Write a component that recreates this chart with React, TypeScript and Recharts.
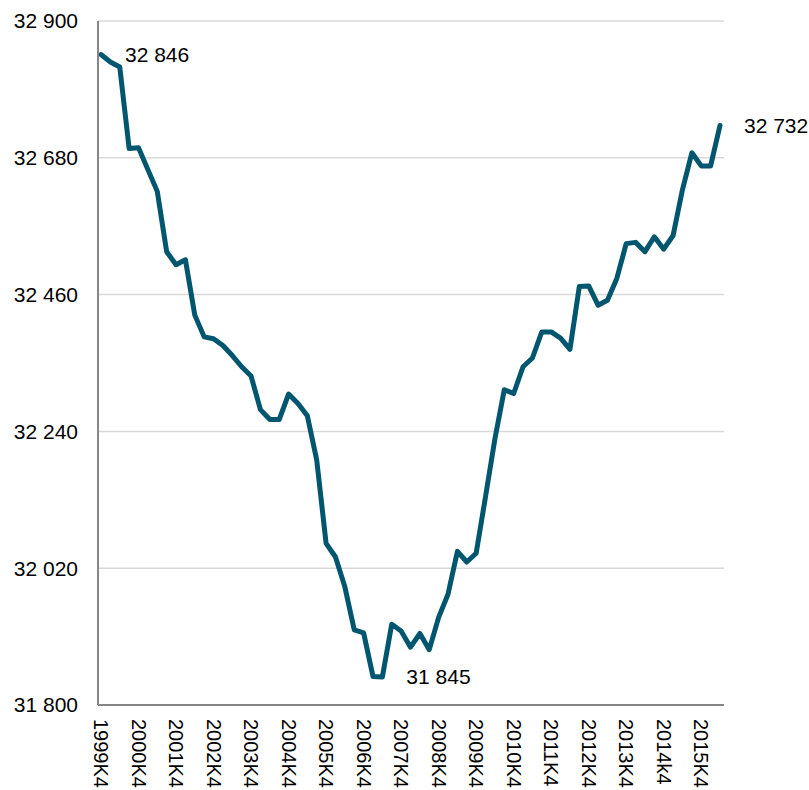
import React from "react";
import { LineChart, Line, XAxis, YAxis, CartesianGrid, LabelList } from "recharts";

const quarters: string[] = [
  "1999K4",
  "2000K1", "2000K2", "2000K3", "2000K4",
  "2001K1", "2001K2", "2001K3", "2001K4",
  "2002K1", "2002K2", "2002K3", "2002K4",
  "2003K1", "2003K2", "2003K3", "2003K4",
  "2004K1", "2004K2", "2004K3", "2004K4",
  "2005K1", "2005K2", "2005K3", "2005K4",
  "2006K1", "2006K2", "2006K3", "2006K4",
  "2007K1", "2007K2", "2007K3", "2007K4",
  "2008K1", "2008K2", "2008K3", "2008K4",
  "2009K1", "2009K2", "2009K3", "2009K4",
  "2010K1", "2010K2", "2010K3", "2010K4",
  "2011K1", "2011K2", "2011K3", "2011K4",
  "2012K1", "2012K2", "2012K3", "2012K4",
  "2013K1", "2013K2", "2013K3", "2013K4",
  "2014K1", "2014K2", "2014K3", "2014k4",
  "2015K1", "2015K2", "2015K3", "2015K4",
  "2016K1", "2016K2",
];

const values: number[] = [
  32846,
  32834, 32826, 32695, 32696,
  32661, 32626, 32529, 32508,
  32516, 32427, 32392, 32389,
  32378, 32362, 32344, 32329,
  32275, 32259, 32259, 32300,
  32285, 32265, 32194, 32060,
  32038, 31990, 31921, 31916,
  31846, 31845, 31930, 31919,
  31893, 31915, 31889, 31941,
  31978, 32047, 32030, 32044,
  32135, 32228, 32307, 32301,
  32344, 32358, 32400, 32400,
  32390, 32372, 32473, 32474,
  32443, 32451, 32486, 32542,
  32544, 32529, 32553, 32533,
  32555, 32629, 32688, 32667,
  32667, 32732,
];

const yTicks: number[] = [31800, 32020, 32240, 32460, 32680, 32900];
const labelledIndices: number[] = [0, 30, 66];

const data = quarters.map((q, i) => ({ q, value: values[i] }));

const FONT = "'Liberation Sans', Arial, sans-serif";
const FS = 21;
const fmt = (v: number) => String(v).replace(/\B(?=(\d{3})+(?!\d))/g, " ");

const XTick = (props: any) => {
  const { x, y, payload } = props;
  return (
    <text
      x={x}
      y={y}
      dy="0.35em"
      transform={`rotate(90, ${x}, ${y})`}
      textAnchor="start"
      fontSize={20}
      fontFamily={FONT}
      fill="#000"
    >
      {payload.value}
    </text>
  );
};

const renderLabel = (props: any) => {
  const { x, y, value, index } = props;
  if (!labelledIndices.includes(index)) return null;
  return (
    <text
      x={Number(x) + 24}
      y={y}
      dy="0.35em"
      textAnchor="start"
      fontSize={FS}
      fontFamily={FONT}
      fill="#000"
    >
      {fmt(value)}
    </text>
  );
};

export default function App() {
  return (
    <div style={{ position: "absolute", left: 0, top: 0, background: "#fff" }}>
      <LineChart
        width={809}
        height={790}
        data={data}
        margin={{ top: 21, right: 85, bottom: 0, left: 0 }}
      >
        <CartesianGrid vertical={false} stroke="#d9d9d9" strokeWidth={1.5} />
        <XAxis
          dataKey="q"
          interval={3}
          height={85}
          padding={{ left: 3, right: 4 }}
          axisLine={{ stroke: "#868686", strokeWidth: 2 }}
          tickLine={false}
          tickSize={6}
          tickMargin={8}
          tick={<XTick />}
        />
        <YAxis
          width={98}
          domain={[31800, 32900]}
          ticks={yTicks}
          type="number"
          allowDataOverflow
          axisLine={{ stroke: "#868686", strokeWidth: 2 }}
          tickLine={false}
          tickSize={6}
          tickMargin={14}
          tickFormatter={fmt}
          tick={{ fontSize: FS, fontFamily: FONT, fill: "#000" }}
        />
        <Line
          type="linear"
          dataKey="value"
          stroke="#00566e"
          strokeWidth={5}
          strokeLinejoin="round"
          strokeLinecap="round"
          dot={false}
          activeDot={false}
          isAnimationActive={false}
        >
          <LabelList dataKey="value" content={renderLabel} />
        </Line>
      </LineChart>
    </div>
  );
}
